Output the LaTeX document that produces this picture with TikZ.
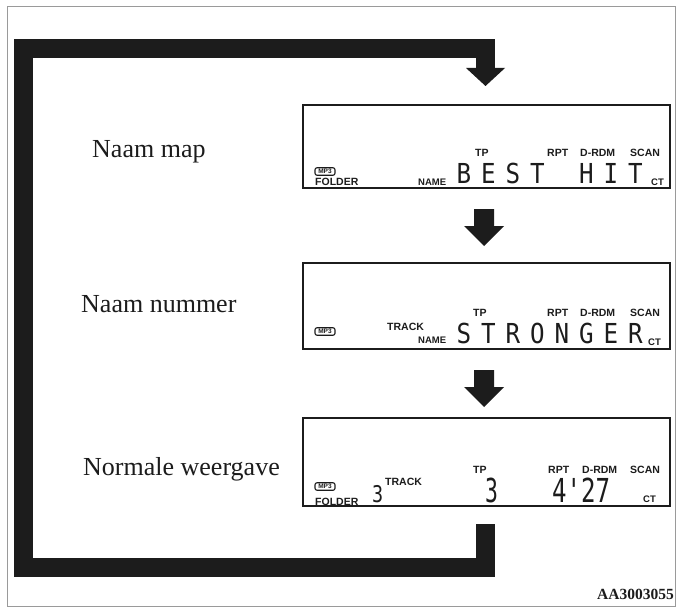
\documentclass[tikz,border=0pt]{standalone}
\usepackage{fontspec}
\setmainfont{Liberation Serif}
\newfontfamily\lblsans{Liberation Sans}
\newfontfamily\lcdfont{DejaVu Sans Mono}
\usetikzlibrary{calc}
\definecolor{ink}{HTML}{1C1C1C}
\definecolor{framegray}{HTML}{9A9A9A}
\begin{document}
\begin{tikzpicture}[x=1pt,y=-1pt,
  lcdbox/.style={draw=ink, line width=2pt, minimum width=367pt, inner sep=0pt},
  caption/.style={anchor=base west, inner sep=0pt, text=ink, font={\fontsize{26}{26}\selectfont}},
  tag/.style={anchor=base west, inner sep=0pt, text=ink, font={\lblsans\bfseries\fontsize{10.5}{11}\selectfont}},
  smalltag/.style={anchor=base west, inner sep=0pt, text=ink, font={\lblsans\bfseries\fontsize{9.5}{10}\selectfont}},
  mpicon/.style={draw=ink, line width=1.1pt, rounded corners=2pt, inner sep=0pt, minimum width=20pt, minimum height=7.5pt, text=ink, font={\lblsans\bfseries\fontsize{6.5}{6.5}\selectfont}},
  seg/.style={anchor=base, inner sep=0pt, text=ink, font={\lcdfont\fontsize{27.5}{27.5}\selectfont}},
  digit/.style={anchor=base west, inner sep=0pt, text=ink},
  loopbar/.style={draw=ink, line width=19pt, line join=miter},
]
\useasboundingbox (0,0) rectangle (676,607);
\fill[white] (0,0) rectangle (676,607);
\draw[framegray, line width=1pt] (7,7) rectangle (675,606);

% display boxes
\node[lcdbox, minimum height=83pt] (b1) at (486.5,146.5) {};
\node[lcdbox, minimum height=86pt] (b2) at (486.5,306) {};
\node[lcdbox, minimum height=88pt] (b3) at (486.5,462) {};

% captions
\node[caption] (t1) at (92,157) {Naam map};
\node[caption] (t2) at (81,312) {Naam nummer};
\node[caption] (t3) at (83,475) {Normale weergave};
\node[anchor=base east, inner sep=0pt, text=ink, font={\bfseries\fontsize{15.5}{15.5}\selectfont}] (code) at (674,599) {AA3003055};

% display 1
\node[mpicon] (m1) at (325,171.5) {MP3};
\node[tag] (f1) at (315,185) {FOLDER};
\node[smalltag] (nm1) at (418,185) {NAME};
\node[tag] (tp1) at (475,156) {TP};
\node[tag] (r1) at (547,156) {RPT};
\node[tag] (d1) at (580,156) {D-RDM};
\node[tag] (s1) at (630,156) {SCAN};
\node[smalltag] (ct1) at (651,185) {CT};
\foreach \i/\c in {1/B,2/E,3/S,4/T,6/H,7/I,8/T}
  \node[seg] (b1c\i) at ({464+24.5*(\i-1)},183) {\scalebox{0.88}[1]{\c}};

% display 2
\node[mpicon] (m2) at (325,331.5) {MP3};
\node[tag] (tr2) at (387,330) {TRACK};
\node[smalltag] (nm2) at (418,343) {NAME};
\node[tag] (tp2) at (473,316) {TP};
\node[tag] (r2) at (547,316) {RPT};
\node[tag] (d2) at (580,316) {D-RDM};
\node[tag] (s2) at (630,316) {SCAN};
\node[smalltag] (ct2) at (648,345) {CT};
\foreach \i/\c in {1/S,2/T,3/R,4/O,5/N,6/G,7/E,8/R}
  \node[seg] (b2c\i) at ({464+24.5*(\i-1)},343) {\scalebox{0.88}[1]{\c}};

% display 3
\node[mpicon] (m3) at (325,486.5) {MP3};
\node[tag] (f3) at (315,505) {FOLDER};
\node[tag] (tr3) at (385,485) {TRACK};
\node[tag] (tp3) at (473,473) {TP};
\node[tag] (r3) at (548,473) {RPT};
\node[tag] (d3) at (582,473) {D-RDM};
\node[tag] (s3) at (630,473) {SCAN};
\node[smalltag] (ct3) at (643,502) {CT};
\node[digit, font={\lcdfont\fontsize{23}{23}\selectfont}] (n3a) at (372,502) {\scalebox{0.8}[1]{3}};
\node[digit, font={\lcdfont\fontsize{33}{33}\selectfont}] (n3b) at (485,502) {\scalebox{0.65}[1]{3}};
\node[digit, font={\lcdfont\fontsize{33}{33}\selectfont}] (n3c) at (552,502) {\scalebox{0.73}[1]{4'27}};

% arrows between displays
\coordinate (a1) at ([xshift=-2.5pt,yshift=-20pt]b1.south);
\fill[ink] ($(a1)+(-10,0)$) -- ++(20,0) -- ++(0,17) -- ++(10,0) -- ++(-20,20) -- ++(-20,-20) -- ++(10,0) -- cycle;
\coordinate (a2) at ([xshift=-2.5pt,yshift=-20pt]b2.south);
\fill[ink] ($(a2)+(-10,0)$) -- ++(20,0) -- ++(0,17) -- ++(10,0) -- ++(-20,20) -- ++(-20,-20) -- ++(10,0) -- cycle;

% return loop from display 3 to display 1
\coordinate (lstart) at ([xshift=-1pt,yshift=-17pt]b3.south);
\coordinate (ltip) at ([xshift=-1pt,yshift=18pt]b1.north);
\coordinate (lbl) at (23,567.5);
\coordinate (ltl) at (23,48.5);
\draw[loopbar] (lstart) -- (lstart |- lbl) -- (lbl) -- (ltl) -- (ltip |- ltl) -- ([yshift=18pt]ltip);
\fill[ink] ([xshift=-19.5pt,yshift=18pt]ltip) -- ([xshift=19.5pt,yshift=18pt]ltip) -- (ltip) -- cycle;
\end{tikzpicture}
\end{document}
